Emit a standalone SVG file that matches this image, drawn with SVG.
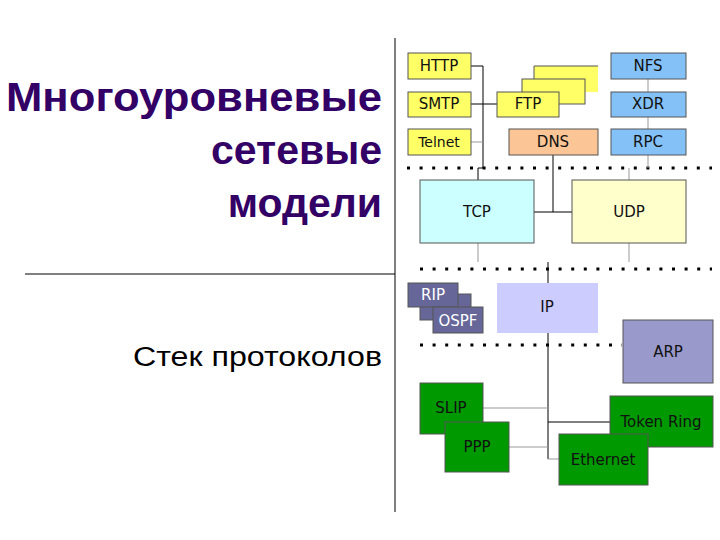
<svg xmlns="http://www.w3.org/2000/svg" width="720" height="540" viewBox="0 0 720 540">
<style>
.b{stroke:#555;stroke-width:1}
.t{font-family:"DejaVu Sans",sans-serif;font-size:15px;text-anchor:middle;dominant-baseline:central;fill:#111}
.w{fill:#fff}
.g{stroke:#999;fill:none}
.k{stroke:#000;fill:none}
.d{stroke:#000;stroke-width:3;stroke-dasharray:3 9.6;fill:none}
.h{font-family:"Liberation Sans",sans-serif;font-weight:bold;font-size:41px;fill:#330066;text-anchor:end}
</style>
<rect width="720" height="540" fill="#fff"/>
<g id="frame" stroke="#000">
<line x1="395" y1="38" x2="395" y2="512"/>
<line x1="25" y1="274" x2="395" y2="274"/>
</g>
<g id="title">
<text class="h" x="382" y="111" textLength="376" lengthAdjust="spacingAndGlyphs">Многоуровневые</text>
<text class="h" x="382" y="164">сетевые</text>
<text class="h" x="382" y="217">модели</text>
<text x="382" y="366" font-family="Liberation Sans,sans-serif" font-size="27" text-anchor="end" textLength="249" lengthAdjust="spacingAndGlyphs">Стек протоколов</text>
</g>
<g id="connectors">
<path class="d" d="M407 168H712M420 269H712M420 345H622"/>
<path class="k" d="M471 66H483V168H478V180M471 104H497M553 155V212M534 212H572M548 262V283M548 333V459M548 422H610"/>
<path class="g" d="M471 142H483M648 79V92M648 117V129M648 155V168M629 168V180M478 243V262M629 243V262M483 408H548M509 447H548M548 459H559"/>
</g>
<g id="HTTP"><rect class="b" x="408" y="53" width="63" height="26" fill="#ffff66"/><text class="t" x="439" y="66">HTTP</text></g>
<g id="SMTP"><rect class="b" x="408" y="92" width="63" height="25" fill="#ffff66"/><text class="t" x="439" y="104">SMTP</text></g>
<g id="Telnet"><rect class="b" x="408" y="129" width="63" height="26" fill="#ffff66"/><text class="t" x="439" y="142" style="font-size:14px">Telnet</text></g>
<g id="FTP">
<path d="M534 92V66H598V92Z" fill="#ffff66"/><path d="M534 92V66H598" stroke="#555" fill="none"/>
<rect class="b" x="522" y="79" width="63" height="25" fill="#ffff66"/>
<rect class="b" x="497" y="92" width="62" height="25" fill="#ffff66"/><text class="t" x="528" y="104">FTP</text></g>
<g id="DNS"><rect class="b" x="509" y="129" width="89" height="26" fill="#fbc595"/><text class="t" x="553" y="142">DNS</text></g>
<g id="NFS"><rect class="b" x="611" y="53" width="75" height="26" fill="#84c1f7"/><text class="t" x="648" y="66">NFS</text></g>
<g id="XDR"><rect class="b" x="611" y="92" width="75" height="25" fill="#84c1f7"/><text class="t" x="648" y="104">XDR</text></g>
<g id="RPC"><rect class="b" x="611" y="129" width="75" height="26" fill="#84c1f7"/><text class="t" x="648" y="142">RPC</text></g>
<g id="TCP"><rect class="b" x="420" y="180" width="114" height="63" fill="#ccffff"/><text class="t" x="477" y="212">TCP</text></g>
<g id="UDP"><rect class="b" x="572" y="180" width="114" height="63" fill="#ffffcc"/><text class="t" x="629" y="212">UDP</text></g>
<g id="RIP-OSPF">
<rect class="b" x="420" y="294" width="51" height="26" fill="#666699"/>
<rect class="b" x="408" y="283" width="50" height="24" fill="#666699"/><text class="t w" x="433" y="295">RIP</text>
<rect class="b" x="433" y="307" width="50" height="26" fill="#666699"/><text class="t w" x="458" y="321">OSPF</text></g>
<g id="IP"><rect x="497" y="283" width="101" height="50" fill="#ccccff"/><text class="t" x="547" y="307">IP</text></g>
<g id="ARP"><rect class="b" x="623" y="320" width="90" height="63" fill="#9999cc"/><text class="t" x="668" y="352">ARP</text></g>
<g id="SLIP"><rect class="b" x="420" y="383" width="63" height="51" fill="#009900"/><text class="t" x="451" y="408">SLIP</text></g>
<g id="PPP"><rect class="b" x="445" y="422" width="64" height="50" fill="#009900"/><text class="t" x="477" y="447">PPP</text></g>
<g id="TokenRing"><rect class="b" x="610" y="396" width="103" height="51" fill="#009900"/><text class="t" x="661" y="422">Token Ring</text></g>
<g id="Ethernet"><rect class="b" x="559" y="434" width="89" height="51" fill="#009900"/><text class="t" x="603" y="460">Ethernet</text></g>
</svg>
